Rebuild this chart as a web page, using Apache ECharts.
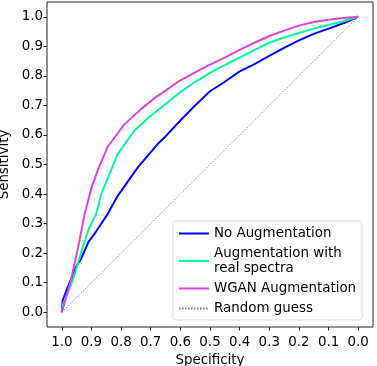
<!doctype html>
<html lang="en">
 <head>
  <meta charset="UTF-8">
  <style type="text/css">
  html,body{margin:0;padding:0;background:#fff;}
  #roc{width:377px;height:366px;}
  </style>
  <script src="https://cdn.jsdelivr.net/npm/echarts@6/dist/echarts.min.js"></script>
  <title>ROC</title>
 </head>
 <body>
    <div id="roc"></div>
    <script type="text/javascript">
    // specificity ticks (x axis runs 1.0 -> 0.0)
    var tickValues = [0, 0.1, 0.2, 0.3, 0.4, 0.5, 0.6, 0.7, 0.8, 0.9, 1.0];

    // curves read as (1 - specificity, sensitivity)
    var noAugFpr = [0, 0.003, 0.02, 0.048, 0.065, 0.09, 0.11, 0.155, 0.189, 0.2, 0.257, 0.324, 0.35, 0.4, 0.45, 0.5, 0.55, 0.6, 0.65, 0.7, 0.75, 0.8, 0.85, 0.9, 0.95, 1.0];
    var noAugTpr = [0, 0.04, 0.085, 0.153, 0.181, 0.238, 0.265, 0.333, 0.395, 0.41, 0.491, 0.57, 0.595, 0.649, 0.70, 0.748, 0.78, 0.815, 0.84, 0.868, 0.895, 0.92, 0.942, 0.96, 0.978, 1.0];

    var realFpr = [0, 0.005, 0.037, 0.071, 0.09, 0.116, 0.133, 0.155, 0.189, 0.245, 0.3, 0.35, 0.4, 0.45, 0.5, 0.55, 0.6, 0.65, 0.7, 0.75, 0.8, 0.85, 0.9, 0.95, 1.0];
    var realTpr = [0, 0.03, 0.108, 0.221, 0.28, 0.333, 0.40, 0.455, 0.536, 0.615, 0.665, 0.705, 0.745, 0.78, 0.81, 0.836, 0.862, 0.888, 0.912, 0.93, 0.945, 0.96, 0.972, 0.985, 1.0];

    var wganFpr = [0, 0.01, 0.03, 0.055, 0.077, 0.1, 0.125, 0.155, 0.21, 0.27, 0.32, 0.35, 0.4, 0.45, 0.5, 0.55, 0.6, 0.65, 0.7, 0.75, 0.8, 0.85, 0.9, 0.95, 1.0];
    var wganTpr = [0, 0.035, 0.105, 0.22, 0.333, 0.42, 0.49, 0.56, 0.635, 0.69, 0.73, 0.75, 0.785, 0.812, 0.838, 0.862, 0.888, 0.912, 0.935, 0.953, 0.97, 0.982, 0.99, 0.996, 1.0];

    var randomSpec = [1.0, 0.0];
    var randomSens = [0.0, 1.0];

    function toPoints(fpr, tpr){
        var pts = [];
        for(var i = 0; i < fpr.length; i++){
            pts.push([1 - fpr[i], tpr[i]]);
        }
        return pts;
    }

    var font = 'DejaVu Sans';
    var myChart = echarts.init(document.getElementById('roc'));
    var option = {
        animation: false,
        grid: {
            left: 47,
            right: 4,
            top: 2,
            bottom: 39,
            containLabel: false,
            outerBoundsMode: 'none',
            show: true,
            borderColor: '#222',
            borderWidth: 1
        },
        legend: {
            left: 173,
            top: 221,
            orient: 'vertical',
            backgroundColor: '#fff',
            borderColor: '#ddd',
            borderWidth: 1,
            borderRadius: 3,
            padding: [5, 6, 4, 5],
            itemGap: 5,
            itemWidth: 30,
            itemHeight: 10,
            itemStyle: {opacity: 0},
            textStyle: {fontFamily: font, fontSize: 13.4, color: '#000', lineHeight: 15},
            data: ['No Augmentation', 'Augmentation with\nreal spectra', 'WGAN Augmentation', 'Random guess']
        },
        xAxis: {
            type: 'value',
            inverse: true,
            min: -0.05,
            max: 1.05,
            name: 'Specificity',
            nameLocation: 'middle',
            nameGap: 25,
            nameTextStyle: {fontFamily: font, fontSize: 13.4, color: '#000'},
            axisLine: {show: false, onZero: false},
            splitLine: {show: false},
            axisTick: {show: true, length: 3.5, customValues: tickValues, lineStyle: {color: '#222'}},
            axisLabel: {
                customValues: tickValues,
                margin: 9,
                fontFamily: font, fontSize: 13.4, color: '#000',
                formatter: function(v){ return v.toFixed(1); }
            }
        },
        yAxis: {
            type: 'value',
            min: -0.05,
            max: 1.05,
            name: 'Sensitivity',
            nameLocation: 'middle',
            nameGap: 31,
            nameTextStyle: {fontFamily: font, fontSize: 13.4, color: '#000'},
            axisLine: {show: false, onZero: false},
            splitLine: {show: false},
            axisTick: {show: true, length: 3.5, customValues: tickValues, lineStyle: {color: '#222'}},
            axisLabel: {
                customValues: tickValues,
                margin: 4,
                fontFamily: font, fontSize: 13.4, color: '#000',
                formatter: function(v){ return v.toFixed(1); }
            }
        },
        series: [
            {
                name: 'Random guess',
                type: 'line',
                symbol: 'none',
                z: 1,
                lineStyle: {color: '#777', width: 0.8, type: [1.5, 1.5]},
                itemStyle: {color: '#777'},
                data: toPoints([1 - randomSpec[0], 1 - randomSpec[1]], randomSens)
            },
            {
                name: 'No Augmentation',
                type: 'line',
                symbol: 'none',
                z: 2,
                lineStyle: {color: '#0000ff', width: 2},
                itemStyle: {color: '#0000ff'},
                data: toPoints(noAugFpr, noAugTpr)
            },
            {
                name: 'Augmentation with\nreal spectra',
                type: 'line',
                symbol: 'none',
                z: 3,
                lineStyle: {color: '#00fa9a', width: 2},
                itemStyle: {color: '#00fa9a'},
                data: toPoints(realFpr, realTpr)
            },
            {
                name: 'WGAN Augmentation',
                type: 'line',
                symbol: 'none',
                z: 4,
                lineStyle: {color: '#dd44dd', width: 2},
                itemStyle: {color: '#dd44dd'},
                data: toPoints(wganFpr, wganTpr)
            }
        ]
    };
    myChart.setOption(option);
    </script>
 </body>
</html>
